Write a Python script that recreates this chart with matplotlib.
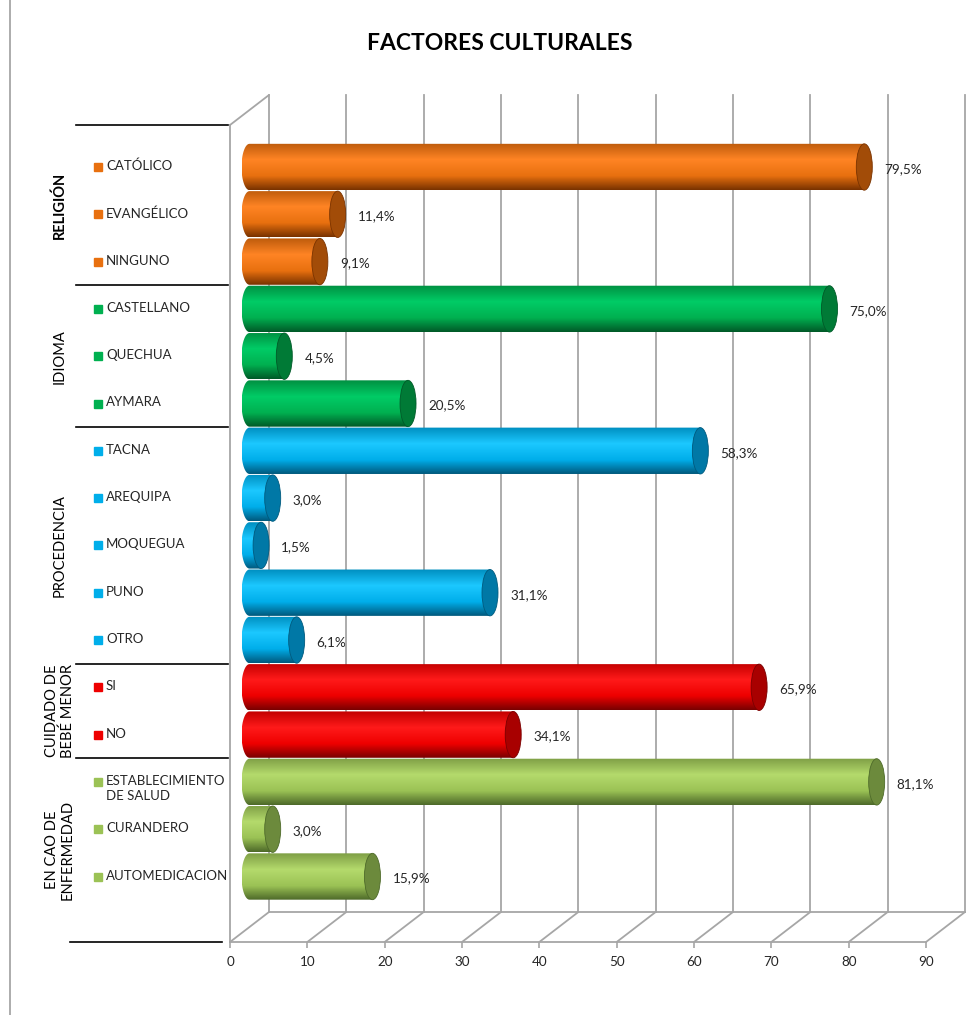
import numpy as np
import matplotlib
matplotlib.use("Agg")
import matplotlib.pyplot as plt
from matplotlib.transforms import offset_copy, blended_transform_factory
from matplotlib.patches import Ellipse, Polygon, ConnectionPatch
from matplotlib.colors import LinearSegmentedColormap, to_rgb

plt.rcParams['font.family'] = ['Lato', 'DejaVu Sans']

# datos
categorias = ["CATÓLICO", "EVANGÉLICO", "NINGUNO",
              "CASTELLANO", "QUECHUA", "AYMARA",
              "TACNA", "AREQUIPA", "MOQUEGUA", "PUNO", "OTRO",
              "SI", "NO",
              "ESTABLECIMIENTO\nDE SALUD", "CURANDERO", "AUTOMEDICACION"]
valores = [79.5, 11.4, 9.1,
           75.0, 4.5, 20.5,
           58.3, 3.0, 1.5, 31.1, 6.1,
           65.9, 34.1,
           81.1, 3.0, 15.9]
grupos = ["RELIGIÓN", "IDIOMA", "PROCEDENCIA", "CUIDADO DE\nBEBÉ MENOR", "EN CAO DE\nENFERMEDAD"]
tam_grupos = [3, 3, 5, 2, 3]
xticks = [0, 10, 20, 30, 40, 50, 60, 70, 80, 90]

# (claro, base, oscuro, tapa) por grupo
colores = [("#FF8424", "#E8700F", "#7A3300", "#A24C08"),
           ("#00CC66", "#00B050", "#005A28", "#007A36"),
           ("#1CC8FF", "#00AEEA", "#005A7E", "#0078A6"),
           ("#FF1A1A", "#EE0000", "#7A0000", "#A80000"),
           ("#B4DA6C", "#9BC255", "#4E6A2A", "#6C8A3C")]

W, H = 980, 1015
def fx(x):
    return x / W
def fy(y):
    return 1 - y / H

fig = plt.figure(figsize=(W / 100, H / 100), dpi=100)
fig.patch.set_facecolor("white")

# plano frontal del grafico 3D
ax = fig.add_axes([fx(230), fy(942), fx(926) - fx(230), fy(125) - fy(942)])
paso = 47.3
y_bot = (942 - 182) / paso
y_top = (125 - 182) / paso
ax.set_xlim(0, 90)
ax.set_ylim(y_bot, y_top)

t_barra = offset_copy(ax.transData, fig=fig, x=19.5, y=15, units='dots')
t_fondo = offset_copy(ax.transData, fig=fig, x=39, y=30, units='dots')
gris = "#A6A6A6"

# pared del fondo, piso y pared izquierda
for t in xticks:
    ax.plot([t, t], [y_bot, y_top], color=gris, lw=1.3, transform=t_fondo, clip_on=False, zorder=1)
    cp = ConnectionPatch(xyA=(t, y_bot), coordsA=ax.transData, xyB=(t, y_bot), coordsB=t_fondo,
                         color=gris, lw=1.3, zorder=1)
    ax.add_artist(cp)
ax.plot([0, 90], [y_bot, y_bot], color=gris, lw=1.3, transform=t_fondo, clip_on=False, zorder=1)
cp = ConnectionPatch(xyA=(0, y_top), coordsA=ax.transData, xyB=(0, y_top), coordsB=t_fondo,
                     color=gris, lw=1.3, zorder=1)
ax.add_artist(cp)

# barras cilindricas
idx_color = []
for g, n in enumerate(tam_grupos):
    idx_color += [g] * n

a = 8 * 90 / 696.0   # semieje de la tapa en unidades de x
h = 0.98
grad = np.linspace(0, 1, 64)[:, None]
for i, (v, g) in enumerate(zip(valores, idx_color)):
    claro, base, oscuro, tapa = colores[g]
    arriba = tuple(c * 0.82 for c in to_rgb(base))
    cmap = LinearSegmentedColormap.from_list(
        "c%d" % i, [(0, arriba), (0.35, claro), (0.7, base), (1, oscuro)])
    ang = np.linspace(np.pi / 2, 3 * np.pi / 2, 40)
    pts = [(a * np.cos(t_), i - h / 2 * np.sin(t_)) for t_ in ang]
    pts += [(v, i + h / 2), (v, i - h / 2)]
    clip = Polygon(pts, closed=True, transform=t_barra, facecolor="none", edgecolor="none")
    im = ax.imshow(grad, cmap=cmap, extent=(-a, v, i + h / 2, i - h / 2), aspect='auto',
                   transform=t_barra, interpolation='bilinear', zorder=3)
    im.set_clip_path(clip)
    ax.add_patch(Ellipse((v, i), 2 * a, h, transform=t_barra, facecolor=tapa,
                         edgecolor=oscuro, lw=0.6, zorder=4))
    ax.text(v, i, ("%.1f%%" % v).replace(".", ","),
            transform=offset_copy(ax.transData, fig=fig, x=19.5 + 20, y=13, units='dots'),
            ha='left', va='center', fontsize=9.7, color="#262626", zorder=5)

ax.set_xlim(0, 90)
ax.set_ylim(y_bot, y_top)

# ejes
for s in ["top", "right"]:
    ax.spines[s].set_visible(False)
for s in ["left", "bottom"]:
    ax.spines[s].set_color(gris)
    ax.spines[s].set_linewidth(1.3)
ax.set_yticks([])
ax.set_xticks(xticks)
ax.set_xticklabels([str(t) for t in xticks], fontsize=9.7, color="#262626")
ax.tick_params(axis='x', length=4, width=1.2, color=gris, pad=6)
ax.patch.set_visible(False)

# etiquetas de categoria (multinivel)
blend = blended_transform_factory(fig.transFigure, t_barra)
for i, (cat, g) in enumerate(zip(categorias, idx_color)):
    ax.plot([fx(98)], [i], marker='s', ms=5.6, color=colores[g][1], transform=blend,
            clip_on=False, ls='none')
    ax.text(fx(106), i, cat, transform=offset_copy(blend, fig=fig, x=0, y=7, units='dots'),
            ha='left', va='top', fontsize=9.5, color="#262626", linespacing=1.35)

limites = [(125 - 167) / paso]
acum = 0
for n in tam_grupos[:-1]:
    acum += n
    limites.append(acum - 0.5)
limites.append((942 - 167) / paso)

for b in limites[1:-1]:
    ax.plot([fx(76), fx(228)], [b, b], color="black", lw=1.2, transform=blend, clip_on=False)
ax.plot([fx(76), fx(228)], [y_top, y_top], color="black", lw=1.2,
        transform=blended_transform_factory(fig.transFigure, ax.transData), clip_on=False)
ax.plot([fx(70), fx(222)], [y_bot, y_bot], color="black", lw=1.2,
        transform=blended_transform_factory(fig.transFigure, ax.transData), clip_on=False)

for k, grp in enumerate(grupos):
    yc = (limites[k] + limites[k + 1]) / 2
    ax.text(fx(60), yc, grp, transform=blend, rotation=90, ha='center', va='center',
            fontsize=10.5, color="black", linespacing=1.15,
            fontweight='bold' if k == 0 else 'normal')

fig.text(fx(500), fy(43), "FACTORES CULTURALES", ha='center', va='center',
         fontsize=16.5, fontweight='bold', color="black")

# borde izquierdo del area del grafico
fig.add_artist(plt.Line2D([fx(10), fx(10)], [0, 1], color=gris, lw=1.3))

fig.savefig("out.png", dpi=100)
